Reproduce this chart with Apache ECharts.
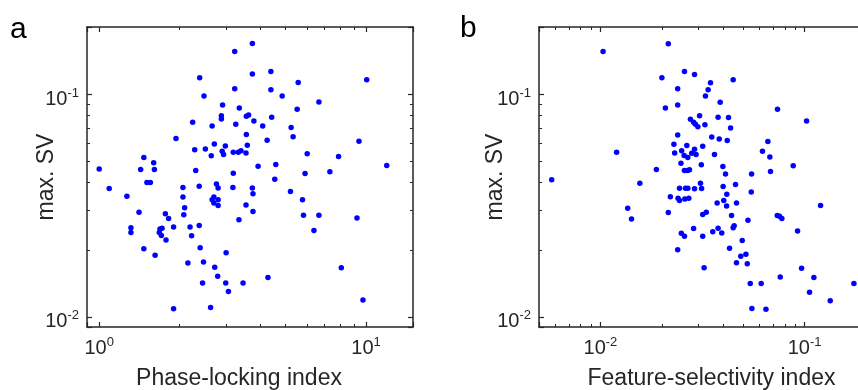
<!DOCTYPE html>
<html>
<head>
<meta charset="utf-8">
<script src="https://cdn.jsdelivr.net/npm/echarts@6/dist/echarts.min.js"></script>
<style>
  html, body { margin: 0; padding: 0; background: #fff; }
  #chart { width: 858px; height: 390px; }
</style>
</head>
<body>
<div id="chart"></div>
<script>
// Panel a: phase-locking index vs. max. SV (one point per neuron)
const plvA = [
  1.00, 1.09, 1.27, 1.315, 1.315, 1.41, 1.43, 1.47, 1.47, 1.51, 1.555, 1.60, 1.61, 1.62,
  1.68, 1.69, 1.72, 1.71, 1.77, 1.78, 1.82, 1.90, 1.90, 1.94, 2.06, 2.06, 2.075, 2.09,
  2.15, 2.19, 2.22, 2.24, 2.28, 2.30, 2.37, 2.37, 2.38, 2.39, 2.44, 2.46, 2.47, 2.50,
  2.615, 2.63, 2.65, 2.69, 2.65, 2.79, 2.69, 2.79, 2.70, 2.71, 2.75, 2.79, 2.78, 2.87,
  2.87, 2.89, 2.90, 2.925, 2.97, 2.98, 2.99, 3.05, 3.17, 3.18, 3.18, 3.22, 3.22, 3.25,
  3.32, 3.34, 3.35, 3.40, 3.46, 3.55, 3.55, 3.56, 3.56, 3.59, 3.63, 3.75, 3.75, 3.75,
  3.77, 3.77, 3.80, 3.94, 4.10, 4.26, 4.29, 4.40, 4.40, 4.43, 4.55, 4.59, 4.85, 5.21,
  5.24, 5.33, 5.52, 5.57, 5.78, 5.83, 5.91, 6.02, 6.38, 6.66, 6.66, 7.32, 7.89, 8.08,
  9.25, 9.41, 9.74, 10.06, 11.96
];
const svA = [
  0.0461, 0.0377, 0.0348, 0.0251, 0.0239, 0.0295, 0.0458, 0.0519, 0.0202, 0.0401, 0.0401, 0.0491, 0.0458, 0.0189,
  0.0239, 0.0248, 0.0250, 0.0232, 0.0290, 0.0221, 0.0276, 0.0253, 0.01086, 0.0631, 0.0381, 0.0345, 0.0287, 0.0309,
  0.01745, 0.0253, 0.0231, 0.0747, 0.0563, 0.0454, 0.0386, 0.0257, 0.1183, 0.0204, 0.0142, 0.0176, 0.0980, 0.0567,
  0.0110, 0.0528, 0.0719, 0.0345, 0.0335, 0.0335, 0.0324, 0.0316, 0.0597, 0.0167, 0.0395, 0.0379, 0.0152, 0.0800,
  0.0773, 0.0554, 0.0893, 0.0535, 0.0585, 0.0142, 0.0194, 0.0130, 0.0381, 0.0441, 0.0548, 0.1057, 0.1552, 0.0731,
  0.0548, 0.0273, 0.0866, 0.0556, 0.0142, 0.0544, 0.0318, 0.0794, 0.0658, 0.0589, 0.0806, 0.1686, 0.1229, 0.0379,
  0.0357, 0.0297, 0.0757, 0.0474, 0.0719, 0.0620, 0.0150, 0.1263, 0.1046, 0.0786, 0.0414, 0.0483, 0.0980, 0.0365,
  0.0707, 0.0644, 0.0854, 0.1128, 0.0335, 0.0286, 0.0440, 0.0539, 0.0244, 0.0921, 0.0286, 0.0448, 0.0524, 0.0166,
  0.0278, 0.0614, 0.0119, 0.1159, 0.0478
];

// Panel b: feature-selectivity index vs. max. SV
const fsiB = [
  0.00577, 0.0103, 0.0120, 0.0136, 0.0142, 0.0156, 0.0188, 0.0200, 0.0208, 0.0215, 0.0220, 0.0215, 0.0229, 0.0231,
  0.0239, 0.0239, 0.0239, 0.0239, 0.0244, 0.0240, 0.0244, 0.0248, 0.0250, 0.0249, 0.0257, 0.0268, 0.0280, 0.0289,
  0.0294, 0.0265, 0.0258, 0.0258, 0.0258, 0.0267, 0.0273, 0.0261, 0.0268, 0.0259, 0.0271, 0.0276, 0.0286, 0.0286,
  0.0289, 0.0289, 0.0292, 0.0300, 0.0306, 0.0309, 0.0312, 0.0313, 0.0317, 0.0317, 0.0317, 0.0322, 0.0325, 0.0327,
  0.0330, 0.0337, 0.0346, 0.0351, 0.0355, 0.0362, 0.0373, 0.0377, 0.0377, 0.0382, 0.0386, 0.0393, 0.0398, 0.0399,
  0.0402, 0.0410, 0.0415, 0.0416, 0.0418, 0.0424, 0.0429, 0.0434, 0.0439, 0.0447, 0.0447, 0.0452, 0.0459, 0.0464,
  0.0464, 0.0495, 0.0487, 0.0516, 0.0524, 0.0528, 0.0542, 0.0550, 0.0548, 0.0552, 0.0613, 0.0622, 0.0647, 0.0661,
  0.0676, 0.0681, 0.0737, 0.0735, 0.0754, 0.0774, 0.0760, 0.0880, 0.0924, 0.0967, 0.1023, 0.1058, 0.1111, 0.1198,
  0.1336, 0.1745
];
const svB = [
  0.0412, 0.1552, 0.0548, 0.0307, 0.0275, 0.0398, 0.0458, 0.1183, 0.0866, 0.1680, 0.0346, 0.0294, 0.0595, 0.0544,
  0.1057, 0.0893, 0.0655, 0.0200, 0.0378, 0.0341, 0.0333, 0.0489, 0.0556, 0.0237, 0.0530, 0.0519, 0.0543, 0.0565,
  0.0535, 0.0587, 0.1263, 0.0230, 0.0454, 0.0454, 0.0457, 0.0378, 0.0378, 0.0338, 0.0341, 0.0770, 0.0747, 0.0249,
  0.1225, 0.0376, 0.0731, 0.0714, 0.0800, 0.0398, 0.0481, 0.0377, 0.0288, 0.0230, 0.0583, 0.0166, 0.0729, 0.0980,
  0.0295, 0.1046, 0.1124, 0.0642, 0.0241, 0.0535, 0.0324, 0.0250, 0.0786, 0.0629, 0.0918, 0.0238, 0.0473, 0.0385,
  0.0333, 0.0438, 0.0314, 0.0355, 0.0618, 0.0784, 0.0203, 0.0704, 0.0285, 0.1159, 0.0251, 0.0256, 0.0393, 0.0324,
  0.0175, 0.0220, 0.0187, 0.0191, 0.0173, 0.0271, 0.0141, 0.0438, 0.0363, 0.0109, 0.0141, 0.0554, 0.0108, 0.0612,
  0.0522, 0.0449, 0.0854, 0.0285, 0.0283, 0.0276, 0.0151, 0.0476, 0.0243, 0.0165, 0.0757, 0.0129, 0.0150, 0.0316,
  0.0118, 0.0141
];

// Axis ranges and tick positions
const xRangeA = [0.9, 15];
const xRangeB = [0.005, 0.2];
const yRange = [0.009, 0.2];
const xMinorTicksA = [2, 3, 4, 5, 6, 7, 8, 9];
const xMinorTicksB = [0.006, 0.007, 0.008, 0.009, 0.02, 0.03, 0.04, 0.05, 0.06, 0.07, 0.08, 0.09];
const yMinorTicks = [0.02, 0.03, 0.04, 0.05, 0.06, 0.07, 0.08, 0.09];

const FONT = '"Liberation Sans", Arial, Helvetica, sans-serif';
const INK = '#262626';

// "10" with a superscript exponent, only at whole decades
function decadeLabel(v) {
  const e = Math.log10(v);
  const r = Math.round(e);
  if (Math.abs(e - r) > 1e-6) return '';
  return '{b|10}{s|' + r + '}';
}
const labelRich = {
  b: { fontSize: 20, lineHeight: 20, padding: [10, 0, 0, 0], color: INK, fontFamily: FONT },
  s: { fontSize: 13, lineHeight: 13, padding: [0, 0, 2, 0], color: INK, fontFamily: FONT }
};

// Box-style log axis carrying the decade ticks (and labels on the bottom/left side)
function majorAxis(gridIndex, position, range, withLabels, name, nameGap, namePad) {
  const ax = {
    type: 'log', logBase: 10, gridIndex, position,
    min: range[0], max: range[1],
    axisLine: { show: true, onZero: false, lineStyle: { color: INK, width: 1.5 } },
    axisTick: { show: true, inside: true, length: 5, lineStyle: { color: INK, width: 1.2 } },
    axisLabel: withLabels
      ? { show: true, formatter: decadeLabel, rich: labelRich, margin: (position === 'bottom' ? 6 : 8),
          showMinLabel: true, showMaxLabel: true }
      : { show: false },
    splitLine: { show: false },
    minorTick: { show: false }
  };
  if (name) {
    ax.name = name;
    ax.nameLocation = 'middle';
    ax.nameGap = nameGap;
    ax.nameMoveOverlap = false;
    ax.nameTextStyle = { fontSize: 23, color: INK, fontFamily: FONT, padding: namePad };
  }
  return ax;
}

// Overlay axis carrying only the 2..9 x 10^n minor ticks
function minorAxis(gridIndex, position, range, ticks) {
  return {
    type: 'log', logBase: 10, gridIndex, position,
    min: range[0], max: range[1],
    axisLine: { show: false },
    axisTick: { show: true, inside: true, length: 3, customValues: ticks, lineStyle: { color: INK, width: 1 } },
    axisLabel: { show: false },
    splitLine: { show: false }
  };
}

// Fixed plot boxes; names and labels may run to the canvas edge
const gridA = { left: 87, top: 27, width: 326, height: 300, outerBoundsMode: 'none', containLabel: false };
const gridB = { left: 539, top: 27, width: 327, height: 300, outerBoundsMode: 'none', containLabel: false };

const option = {
  animation: false,
  backgroundColor: '#ffffff',
  textStyle: { fontFamily: FONT },
  title: [
    { text: 'a', left: 5, top: 10, textStyle: { fontSize: 30, fontWeight: 'normal', color: '#000', fontFamily: FONT } },
    { text: 'b', left: 455, top: 9, textStyle: { fontSize: 30, fontWeight: 'normal', color: '#000', fontFamily: FONT } }
  ],
  grid: [
    Object.assign({}, gridA), Object.assign({}, gridA),
    Object.assign({}, gridB), Object.assign({}, gridB)
  ],
  xAxis: [
    majorAxis(0, 'bottom', xRangeA, true, 'Phase-locking index', 40, [0, 22, 0, 0]),
    majorAxis(0, 'top', xRangeA, false),
    minorAxis(1, 'bottom', xRangeA, xMinorTicksA),
    minorAxis(1, 'top', xRangeA, xMinorTicksA),
    majorAxis(2, 'bottom', xRangeB, true, 'Feature-selectivity index', 40, [0, 0, 0, 18]),
    majorAxis(2, 'top', xRangeB, false),
    minorAxis(3, 'bottom', xRangeB, xMinorTicksB),
    minorAxis(3, 'top', xRangeB, xMinorTicksB)
  ],
  yAxis: [
    majorAxis(0, 'left', yRange, true, 'max. SV', 29, 0),
    majorAxis(0, 'right', yRange, false),
    minorAxis(1, 'left', yRange, yMinorTicks),
    minorAxis(1, 'right', yRange, yMinorTicks),
    majorAxis(2, 'left', yRange, true, 'max. SV', 32, 0),
    majorAxis(2, 'right', yRange, false),
    minorAxis(3, 'left', yRange, yMinorTicks),
    minorAxis(3, 'right', yRange, yMinorTicks)
  ],
  series: [
    {
      type: 'scatter', xAxisIndex: 0, yAxisIndex: 0,
      symbol: 'circle', symbolSize: 5.5,
      itemStyle: { color: '#0000ff', opacity: 1 },
      data: plvA.map((x, i) => [x, svA[i]])
    },
    {
      type: 'scatter', xAxisIndex: 4, yAxisIndex: 4,
      symbol: 'circle', symbolSize: 5.5,
      itemStyle: { color: '#0000ff', opacity: 1 },
      data: fsiB.map((x, i) => [x, svB[i]])
    }
  ]
};

const chart = echarts.init(document.getElementById('chart'), null, { renderer: 'canvas' });
chart.setOption(option);
</script>
</body>
</html>
